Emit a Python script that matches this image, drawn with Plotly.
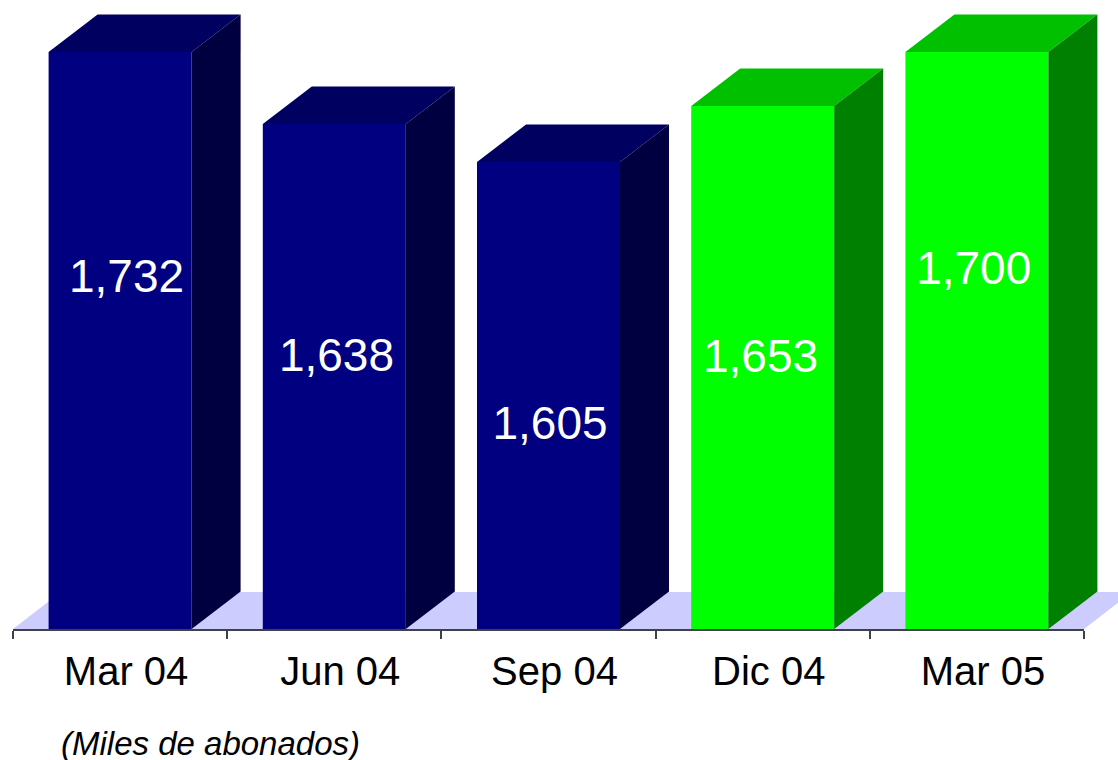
import plotly.graph_objects as go

# Data
categories = ["Mar 04", "Jun 04", "Sep 04", "Dic 04", "Mar 05"]
value_labels = ["1,732", "1,638", "1,605", "1,653", "1,700"]
# Drawn bar heights, on the chart's hidden value axis (not proportional to the labels)
bar_heights = [578, 506, 468, 524, 578]
# Heights at which the value labels sit inside the bars
label_heights = [350, 271, 203, 270, 358]
label_x_offsets = [0.03, 0.01, 0.007, -0.01, -0.015]

W, H = 1118, 760
LEFT, RIGHT, BASE = 13, 1084, 629
unit = (RIGHT - LEFT) / len(categories)
BAR_W = 143 / unit
DX = 49 / unit
DY = 37.5

FRONT = {"blue": "#000080", "green": "#00ff00"}
TOP = {"blue": "#000060", "green": "#00c000"}
SIDE = {"blue": "#000040", "green": "#008000"}
groups = ["blue", "blue", "blue", "green", "green"]
xs = list(range(len(categories)))

fig = go.Figure()

fig.add_trace(go.Bar(
    x=xs, y=bar_heights, width=BAR_W, xaxis="x", yaxis="y",
    marker=dict(color=[FRONT[g] for g in groups], line=dict(width=0)),
    hoverinfo="skip", showlegend=False,
))

fig.add_trace(go.Scatter(
    x=[x + o for x, o in zip(xs, label_x_offsets)], y=label_heights,
    mode="text", text=value_labels, textposition="middle center",
    textfont=dict(family="Liberation Sans", size=46, color="white"),
    hoverinfo="skip", showlegend=False, cliponaxis=False,
))

# The 3D faces run past the right end of the axis line, so they use a full-width twin axis
for x, h, g in zip(xs, bar_heights, groups):
    l, r = x - BAR_W / 2, x + BAR_W / 2
    fig.add_trace(go.Scatter(
        x=[l, r, r + DX, l + DX, l], y=[h, h, h + DY, h + DY, h],
        xaxis="x2", yaxis="y",
        mode="lines", fill="toself", fillcolor=TOP[g], line=dict(width=0),
        hoverinfo="skip", showlegend=False,
    ))
    fig.add_trace(go.Scatter(
        x=[r, r + DX, r + DX, r, r], y=[1, 1 + DY, h + DY, h, 1],
        xaxis="x2", yaxis="y",
        mode="lines", fill="toself", fillcolor=SIDE[g], line=dict(width=0),
        hoverinfo="skip", showlegend=False,
    ))

# Floor behind the bars, in paper coordinates
back = (BASE - 592) / BASE
fig.add_shape(
    type="path", xref="paper", yref="paper", layer="below",
    path=f"M {LEFT / W} 0 L {(LEFT + 48) / W} {back} L {1132 / W} {back} L {RIGHT / W} 0 Z",
    fillcolor="#ccccff", line=dict(width=0),
)

fig.add_annotation(
    text="<i>(Miles de abonados)</i>", xref="paper", yref="paper",
    x=59 / W, y=-(743 - BASE) / BASE, xanchor="left", yanchor="middle",
    showarrow=False, font=dict(family="Liberation Sans", size=33, color="black"),
)

fig.update_layout(
    width=W, height=H,
    margin=dict(l=0, r=0, t=0, b=H - BASE, autoexpand=False),
    paper_bgcolor="white", plot_bgcolor="rgba(0,0,0,0)",
    showlegend=False, barmode="overlay",
    xaxis=dict(
        domain=[LEFT / W, RIGHT / W],
        range=[-0.5, len(categories) - 0.5],
        tickmode="array", tickvals=[x + 0.028 for x in xs], ticktext=categories,
        ticks="", ticklen=0,
        tickfont=dict(family="Liberation Sans", size=40, color="black"),
        showgrid=False, zeroline=False,
        showline=True, linecolor="#404048", linewidth=2,
        minor=dict(tickmode="array", tickvals=[x - 0.5 for x in range(len(categories) + 1)],
                   ticks="outside", ticklen=8, tickwidth=1.5, tickcolor="#404048", showgrid=False),
        ticklabelstandoff=6,
    ),
    xaxis2=dict(
        domain=[0, 1], anchor="y", visible=False,
        range=[-0.5 - LEFT / unit, len(categories) - 0.5 + (W - RIGHT) / unit],
    ),
    yaxis=dict(range=[1, BASE + 1], visible=False, fixedrange=True),
)

fig.write_html("out.html", config={"displayModeBar": False},
               post_script="document.body.style.margin='0';")
